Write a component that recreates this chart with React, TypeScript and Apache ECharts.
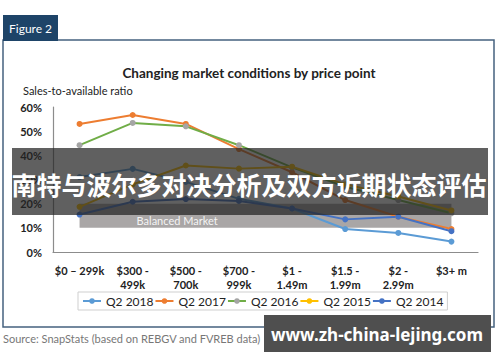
import React, { useEffect, useRef } from "react";
import * as echarts from "echarts";

const categories = [
  "$0 – 299k",
  "$300 -\n499k",
  "$500 -\n700k",
  "$700 -\n999k",
  "$1 -\n1.49m",
  "$1.5 -\n1.99m",
  "$2 -\n2.99m",
  "$3+ m",
];
const seriesNames = ["Q2 2018", "Q2 2017", "Q2 2016", "Q2 2015", "Q2 2014"];
const q2018 = [31, 34.4, 29, 22, 18, 9.5, 7.9, 4.3];
const q2017 = [53, 56.7, 53, 42.6, 33, 21.5, 14.6, 9.5];
const q2016 = [44.2, 53.4, 52, 44.2, 35, 27, 21.5, 16];
const q2015 = [18.7, 28, 35.8, 34.5, 35.3, 28, 23, 17.2];
const q2014 = [15.5, 20.8, 21.9, 21.1, 18, 13.5, 14.6, 8.6];
const balancedRange = [10, 20];
const yTicks = [0, 10, 20, 30, 40, 50, 60];

const lineColors = ["#5b9bd5", "#ed7d31", "#70ad47", "#ffc000", "#4472c4"];
const markerColors = ["#5b9bd5", "#ed7d31", "#a5a5a5", "#ffc000", "#4472c4"];

export default function App() {
  const ref = useRef<HTMLDivElement>(null);
  useEffect(() => {
    if (!ref.current) return;
    const chart = echarts.init(ref.current, null, { renderer: "svg" });
    const values = [q2018, q2017, q2016, q2015, q2014];
    const series: any[] = values.map((d, i) => ({
      name: seriesNames[i],
      type: "line",
      data: d,
      symbol: "circle",
      symbolSize: 6,
      lineStyle: { color: lineColors[i], width: 2 },
      itemStyle: { color: markerColors[i] },
      z: 3,
    }));
    series[0].markArea = {
      silent: true,
      itemStyle: { color: "#a9a6a6" },
      label: {
        show: true,
        position: "insideBottomLeft",
        offset: [52, 3],
        color: "#f4f4f4",
        fontFamily: "Lato",
        fontSize: 11,
      },
      data: [
        [
          { name: "Balanced Market", xAxis: categories[0], yAxis: balancedRange[0] },
          { xAxis: categories[categories.length - 1], yAxis: balancedRange[1] },
        ],
      ],
    };
    chart.setOption({
      animation: false,
      backgroundColor: "#ffffff",
      textStyle: { fontFamily: "Lato" },
      grid: { left: 53, right: 22, top: 107, bottom: 110 },
      xAxis: {
        type: "category",
        data: categories,
        boundaryGap: true,
        axisLine: { lineStyle: { color: "#8c8c8c", width: 1.2 } },
        axisTick: { show: false },
        axisLabel: {
          interval: 0,
          margin: 11,
          color: "#222",
          fontWeight: "bold",
          fontSize: 11,
          lineHeight: 14,
          fontFamily: "Lato",
        },
      },
      yAxis: {
        type: "value",
        min: yTicks[0],
        max: yTicks[yTicks.length - 1],
        interval: 10,
        axisLine: { show: true, lineStyle: { color: "#8c8c8c", width: 1.2 } },
        axisTick: { show: false },
        splitLine: { show: false },
        axisLabel: {
          margin: 11,
          color: "#222",
          fontWeight: "bold",
          fontSize: 11,
          fontFamily: "Lato",
          formatter: (v: number) => `${v}%`,
        },
      },
      legend: {
        data: seriesNames,
        left: 78,
        top: 292,
        padding: [3, 4, 3, 4],
        itemGap: 1,
        itemWidth: 18,
        itemHeight: 7,
        borderColor: "#cfcfcf",
        borderWidth: 1,
        textStyle: { fontSize: 12, color: "#222", fontFamily: "Lato" },
      },
      graphic: [
        {
          type: "rect",
          z: 0,
          shape: { x: 3, y: 40, width: 491, height: 287 },
          style: { fill: "none", stroke: "#46627f", lineWidth: 1.5 },
        },
        {
          type: "rect",
          z: 1,
          shape: { x: 3, y: 15, width: 55, height: 26 },
          style: { fill: "#1e4468" },
        },
        {
          type: "text",
          z: 2,
          x: 9,
          y: 28,
          style: { text: "Figure 2", fill: "#ffffff", font: "12px Lato", textVerticalAlign: "middle" },
        },
        {
          type: "text",
          z: 2,
          x: 249,
          y: 73,
          style: {
            text: "Changing market conditions by price point",
            fill: "#222",
            font: "bold 13.5px Lato",
            textAlign: "center",
            textVerticalAlign: "middle",
          },
        },
        {
          type: "text",
          z: 2,
          x: 23,
          y: 90,
          style: { text: "Sales-to-available ratio", fill: "#222", font: "11px Lato", textVerticalAlign: "middle" },
        },
        {
          type: "text",
          z: 2,
          x: 3,
          y: 338,
          style: {
            text: "Source: SnapStats (based on REBGV and FVREB data)",
            fill: "#777",
            font: "11px Lato",
            textVerticalAlign: "middle",
          },
        },
        {
          type: "rect",
          z: 100,
          shape: { x: 12, y: 148, width: 476, height: 67 },
          style: { fill: "rgba(35,35,35,0.72)" },
        },
        {
          type: "text",
          z: 101,
          x: 249,
          y: 184,
          style: {
            text: "南特与波尔多对决分析及双方近期状态评估",
            fill: "#ffffff",
            font: "bold 25px 'Noto Sans CJK SC'",
            textAlign: "center",
            textVerticalAlign: "middle",
          },
        },
        {
          type: "rect",
          z: 100,
          shape: { x: 264, y: 315, width: 227, height: 37 },
          style: { fill: "#4f4f4f" },
        },
        {
          type: "text",
          z: 101,
          x: 377,
          y: 334,
          style: {
            text: "www.zh-china-lejing.com",
            fill: "#ffffff",
            font: "bold 17px 'Noto Sans'",
            textAlign: "center",
            textVerticalAlign: "middle",
          },
        },
      ],
      series,
    });
    return () => chart.dispose();
  }, []);
  return (
    <div
      ref={ref}
      style={{ position: "fixed", left: 0, top: 0, width: 500, height: 362 }}
    />
  );
}
